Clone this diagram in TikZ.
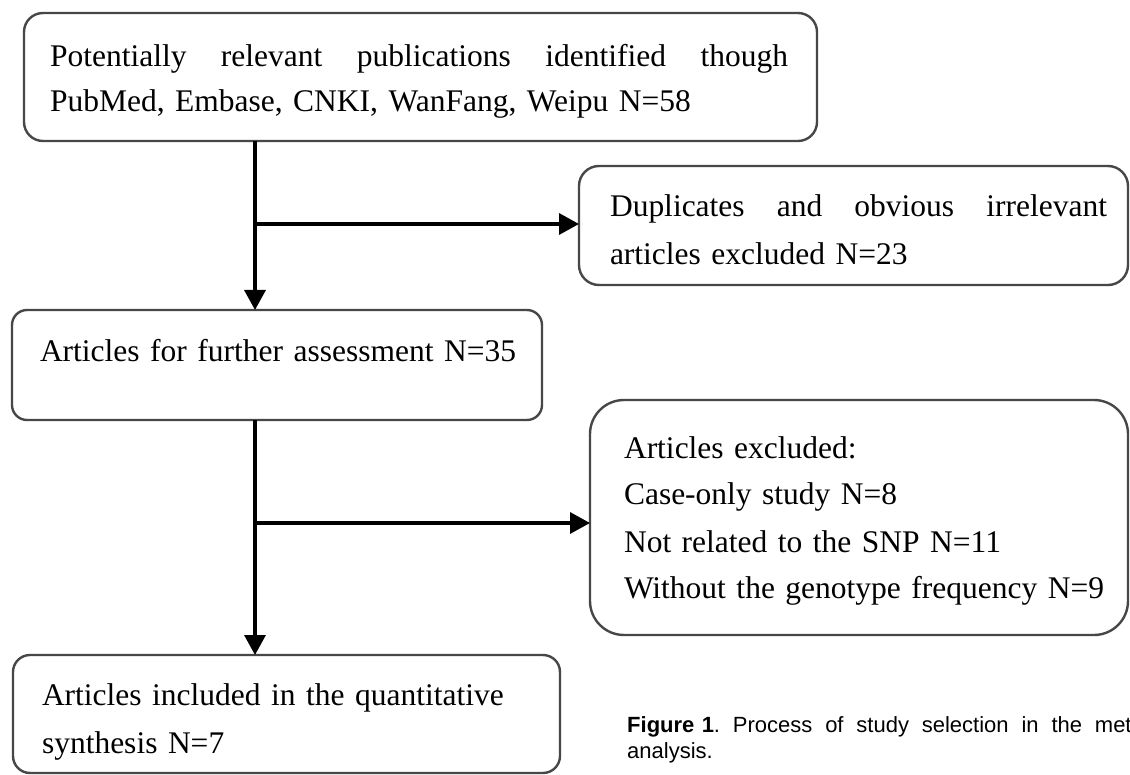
\documentclass[tikz,border=0pt]{standalone}
\usepackage{fontspec}
\setmainfont{Liberation Serif}
\newfontfamily\capfont{Liberation Sans}
\usetikzlibrary{arrows.meta}
\begin{document}
\begin{tikzpicture}[x=1pt,y=-1pt,
  box/.style={draw=black!72, line width=2.4pt, inner ysep=0pt, outer sep=0pt,
    align=left, anchor=north west},
  conn/.style={line width=3.4pt, black},
  arr/.style={conn, -{Triangle[length=20pt,width=21pt]}},
]
\useasboundingbox (0,0) rectangle (1130,775);
\clip (0,0) rectangle (1130,775);
\fill[white] (0,0) rectangle (1130,775);

\node[box, rounded corners=19pt, inner xsep=26pt, text width=741pt,
  text height=54pt, text depth=74pt, font=\fontsize{31.5}{45}\selectfont]
  (top) at (24,13)
  {\makebox[738pt][l]{Potentially\hfill relevant\hfill publications\hfill identified\hfill though}\\
   \mbox{PubMed, Embase, CNKI, WanFang, Weipu N=58}};

\node[box, rounded corners=20pt, inner xsep=31pt, text width=487pt,
  text height=51pt, text depth=68pt, font=\fontsize{31.5}{48}\selectfont]
  (dup) at (579,166)
  {\makebox[497pt][l]{Duplicates\hfill and\hfill obvious\hfill irrelevant}\\
   \mbox{articles excluded N=23}};

\node[box, rounded corners=15pt, inner xsep=28pt, text width=474pt,
  text height=52pt, text depth=58pt, font=\fontsize{31.5}{48}\selectfont]
  (further) at (12,310)
  {\mbox{Articles for further assessment N=35}};

\node[box, rounded corners=34pt, inner xsep=34pt, text width=470pt,
  text height=58pt, text depth=177pt, font=\fontsize{31.5}{47}\selectfont]
  (excl) at (590,400)
  {\mbox{Articles excluded:}\\
   \mbox{Case-only study N=8}\\
   \mbox{Not related to the SNP N=11}\\
   \mbox{Without the genotype frequency N=9}};

\node[box, rounded corners=17pt, inner xsep=29pt, text width=489pt,
  text height=50pt, text depth=68pt, font=\fontsize{31.5}{48}\selectfont]
  (bottom) at (13,655)
  {\mbox{Articles included in the quantitative}\\
   \mbox{synthesis N=7}};

\node[anchor=base west, inner sep=0pt, text width=530pt, align=left,
  font=\capfont\fontsize{22}{26}\selectfont] (cap) at (627,732)
  {\makebox[524pt][l]{\textbf{Figure 1}.\hfill Process\hfill of\hfill study\hfill selection\hfill in\hfill the\hfill meta-}\\
   analysis.};

\coordinate (j1) at (255,224);
\coordinate (j2) at (255,523);
\draw[arr] (j1 |- top.south) -- (j1 |- further.north);
\draw[arr] (j1) -- (j1 -| dup.west);
\draw[arr] (j2 |- further.south) -- (j2 |- bottom.north);
\draw[arr] (j2) -- (j2 -| excl.west);
\end{tikzpicture}
\end{document}
